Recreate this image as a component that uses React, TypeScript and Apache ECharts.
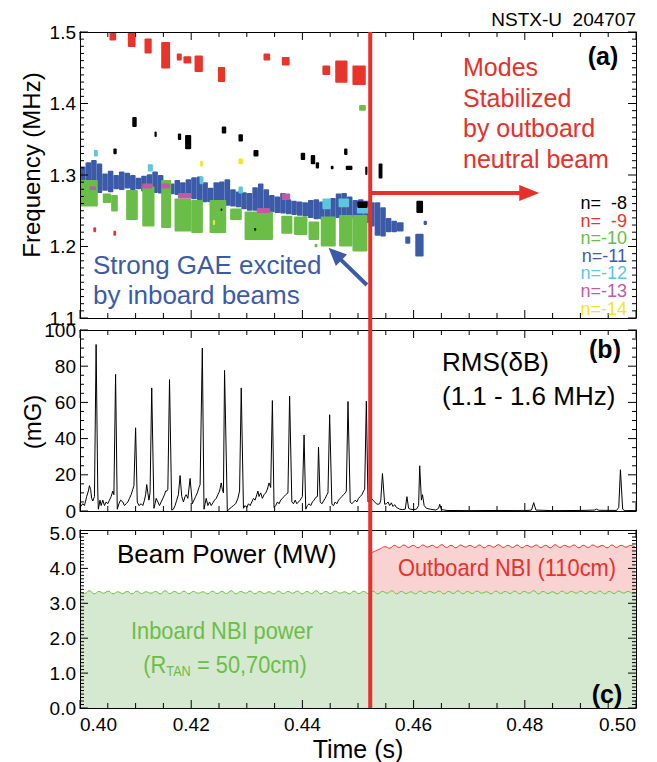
import React, { useEffect, useRef } from 'react';
import * as echarts from 'echarts';

const FONT = '"Liberation Sans", Arial, Helvetica, sans-serif';

// ---------- Panel (a): toroidal mode blobs  [tStart (s), tEnd (s), fLow (MHz), fHigh (MHz)]
const modeN8 = [
  [0.4060, 0.4066, 1.329, 1.337], [0.4094, 0.4102, 1.367, 1.381], [0.4134, 0.4138, 1.353, 1.361],
  [0.4176, 0.4182, 1.349, 1.358], [0.4189, 0.4200, 1.336, 1.356], [0.4255, 0.4263, 1.358, 1.368],
  [0.4285, 0.4293, 1.347, 1.357], [0.4312, 0.4321, 1.326, 1.335], [0.4397, 0.4405, 1.321, 1.331],
  [0.4415, 0.4423, 1.315, 1.328], [0.4424, 0.4430, 1.309, 1.318], [0.4451, 0.4456, 1.308, 1.313],
  [0.4475, 0.4481, 1.328, 1.337], [0.4478, 0.4490, 1.307, 1.313], [0.4513, 0.4517, 1.300, 1.312],
  [0.4537, 0.4544, 1.295, 1.316], [0.4499, 0.4517, 1.254, 1.263], [0.4605, 0.4617, 1.247, 1.264],
  [0.4253, 0.4256, 1.250, 1.253], [0.4313, 0.4317, 1.222, 1.226],
];
const modeN9 = [
  [0.4053, 0.4065, 1.488, 1.500], [0.4086, 0.4100, 1.479, 1.500], [0.4116, 0.4129, 1.470, 1.491],
  [0.4146, 0.4162, 1.449, 1.486], [0.4174, 0.4183, 1.460, 1.470], [0.4186, 0.4200, 1.456, 1.466],
  [0.4206, 0.4221, 1.444, 1.467], [0.4248, 0.4261, 1.430, 1.451], [0.4330, 0.4342, 1.460, 1.470],
  [0.4363, 0.4377, 1.453, 1.465], [0.4436, 0.4450, 1.440, 1.453], [0.4459, 0.4481, 1.429, 1.460],
  [0.4490, 0.4514, 1.426, 1.453], [0.4024, 0.4029, 1.220, 1.227], [0.4060, 0.4065, 1.215, 1.222],
];
const modeN10 = [
  [0.4000, 0.4032, 1.256, 1.293], [0.4041, 0.4056, 1.261, 1.274], [0.4056, 0.4068, 1.249, 1.272],
  [0.4083, 0.4104, 1.237, 1.279], [0.4112, 0.4134, 1.228, 1.284], [0.4146, 0.4164, 1.226, 1.293],
  [0.4170, 0.4200, 1.221, 1.267], [0.4200, 0.4221, 1.219, 1.265], [0.4233, 0.4263, 1.219, 1.265],
  [0.4270, 0.4291, 1.237, 1.253], [0.4296, 0.4347, 1.209, 1.249], [0.4362, 0.4382, 1.218, 1.243],
  [0.4385, 0.4409, 1.216, 1.242], [0.4411, 0.4430, 1.209, 1.235], [0.4433, 0.4460, 1.200, 1.242],
  [0.4466, 0.4490, 1.200, 1.244], [0.4490, 0.4517, 1.193, 1.244], [0.4502, 0.4514, 1.390, 1.398],
  [0.4422, 0.4427, 1.199, 1.204],
];
const modeN11 = [
  [0.400, 0.401, 1.280, 1.312], [0.401, 0.402, 1.278, 1.318], [0.402, 0.403, 1.276, 1.321],
  [0.403, 0.404, 1.275, 1.316], [0.404, 0.405, 1.278, 1.302], [0.405, 0.406, 1.276, 1.306],
  [0.406, 0.407, 1.280, 1.300], [0.407, 0.408, 1.279, 1.305], [0.408, 0.409, 1.281, 1.303],
  [0.409, 0.410, 1.279, 1.300], [0.410, 0.411, 1.280, 1.296], [0.411, 0.412, 1.277, 1.299],
  [0.412, 0.413, 1.276, 1.301], [0.413, 0.414, 1.275, 1.305], [0.414, 0.415, 1.274, 1.300],
  [0.415, 0.416, 1.275, 1.290], [0.416, 0.417, 1.273, 1.288], [0.417, 0.418, 1.272, 1.293],
  [0.418, 0.419, 1.270, 1.290], [0.419, 0.420, 1.268, 1.294], [0.420, 0.421, 1.266, 1.297],
  [0.421, 0.422, 1.265, 1.298], [0.422, 0.423, 1.262, 1.290], [0.423, 0.424, 1.262, 1.282],
  [0.424, 0.425, 1.260, 1.290], [0.425, 0.426, 1.258, 1.291], [0.426, 0.427, 1.257, 1.294],
  [0.427, 0.428, 1.256, 1.280], [0.428, 0.429, 1.255, 1.277], [0.429, 0.430, 1.252, 1.276],
  [0.430, 0.431, 1.250, 1.275], [0.431, 0.432, 1.250, 1.283], [0.432, 0.433, 1.249, 1.288],
  [0.433, 0.434, 1.249, 1.280], [0.434, 0.435, 1.248, 1.272], [0.435, 0.436, 1.247, 1.270],
  [0.436, 0.437, 1.246, 1.275], [0.437, 0.438, 1.245, 1.266], [0.438, 0.439, 1.244, 1.264],
  [0.439, 0.440, 1.243, 1.263], [0.440, 0.441, 1.242, 1.262], [0.441, 0.442, 1.240, 1.265],
  [0.442, 0.443, 1.238, 1.266], [0.443, 0.444, 1.238, 1.263], [0.444, 0.445, 1.237, 1.265],
  [0.445, 0.446, 1.238, 1.268], [0.446, 0.447, 1.240, 1.274], [0.447, 0.448, 1.241, 1.275],
  [0.448, 0.449, 1.240, 1.270], [0.449, 0.450, 1.238, 1.265], [0.450, 0.451, 1.237, 1.266],
  [0.451, 0.452, 1.233, 1.264], [0.452, 0.453, 1.228, 1.262], [0.453, 0.454, 1.215, 1.262],
  [0.454, 0.455, 1.214, 1.255], [0.455, 0.456, 1.220, 1.240], [0.456, 0.457, 1.220, 1.236],
  [0.457, 0.4582, 1.221, 1.234], [0.4585, 0.4594, 1.204, 1.214], [0.4603, 0.4618, 1.186, 1.218],
  [0.4618, 0.4624, 1.230, 1.236],
];
const modeN12 = [
  [0.4025, 0.4032, 1.326, 1.335], [0.4122, 0.4131, 1.305, 1.315], [0.4215, 0.4222, 1.287, 1.298],
  [0.4285, 0.4293, 1.274, 1.284], [0.4436, 0.4451, 1.252, 1.267], [0.4465, 0.4484, 1.255, 1.267],
  [0.4498, 0.4519, 1.246, 1.256],
];
const modeN13 = [
  [0.4017, 0.4029, 1.279, 1.284], [0.4112, 0.4130, 1.281, 1.288], [0.4146, 0.4162, 1.281, 1.288],
  [0.4176, 0.4200, 1.267, 1.275], [0.4318, 0.4342, 1.247, 1.254], [0.4363, 0.4378, 1.265, 1.274],
];
const modeN14 = [
  [0.4216, 0.4221, 1.312, 1.320], [0.4285, 0.4293, 1.315, 1.323], [0.4239, 0.4243, 1.230, 1.237],
];

const MODE_LABELS = ['n=  -8', 'n=  -9', 'n=-10', 'n=-11', 'n=-12', 'n=-13', 'n=-14'];
const MODE_COLORS = ['#000000', '#e8352b', '#6abd46', '#3b5ba9', '#5cc6dd', '#c259a4', '#f1e42a'];
const MODE_DATA = [modeN8, modeN9, modeN10, modeN11, modeN12, modeN13, modeN14];
const DRAW_ORDER = [3, 2, 1, 5, 4, 6, 0];

// ---------- Panel (b): RMS(dB) 1.1-1.6 MHz  [t (s), mG]
const rmsPoints = [
  [0.4000, 2], [0.4005, 4], [0.4008, 3], [0.4012, 8], [0.4015, 11], [0.4017, 14], [0.4019, 12], [0.4021, 7],
  [0.4023, 5.5], [0.4026, 8], [0.4029, 92], [0.4032, 10], [0.4033, 1], [0.4036, 6], [0.4038, 3], [0.4041, 6],
  [0.4044, 3], [0.4047, 5], [0.4050, 4], [0.4053, 6], [0.4056, 8], [0.4059, 11], [0.4061, 9], [0.4064, 75.5],
  [0.4067, 1], [0.4070, 4], [0.4073, 6], [0.4077, 5], [0.4080, 3], [0.4083, 4], [0.4086, 5], [0.4089, 7],
  [0.4092, 9], [0.4095, 12], [0.4097, 14], [0.4100, 46], [0.4103, 5], [0.4106, 3], [0.4110, 4], [0.4113, 3],
  [0.4116, 6], [0.4118, 9], [0.4120, 14.6], [0.4122, 10], [0.4124, 6], [0.4126, 10], [0.4129, 68], [0.4133, 1.5],
  [0.4135, 4], [0.4137, 7], [0.4140, 5], [0.4143, 3], [0.4146, 5], [0.4149, 7], [0.4152, 9], [0.4154, 11],
  [0.4156, 11], [0.4158, 12], [0.4161, 72.6], [0.4165, 0.5], [0.4168, 1], [0.4171, 3], [0.4174, 6], [0.4177, 9],
  [0.4180, 19.6], [0.4183, 8], [0.4186, 5], [0.4189, 8], [0.4191, 9], [0.4194, 7], [0.4198, 18], [0.4202, 4],
  [0.4205, 6], [0.4208, 8], [0.4211, 10], [0.4214, 13], [0.4216, 14.6], [0.4220, 90], [0.4223, 1], [0.4225, 4],
  [0.4227, 7], [0.4230, 3], [0.4233, 5], [0.4236, 3], [0.4239, 4.5], [0.4242, 6], [0.4245, 7], [0.4248, 9],
  [0.4251, 11], [0.4254, 15.5], [0.4256, 12], [0.4258, 10], [0.4260, 77.7], [0.4265, 0], [0.4268, 1], [0.4272, 2],
  [0.4276, 3], [0.4280, 4], [0.4284, 7], [0.4287, 11], [0.4290, 68], [0.4294, 1.5], [0.4297, 3], [0.4300, 2],
  [0.4303, 4], [0.4306, 3], [0.4309, 5], [0.4312, 7], [0.4315, 6], [0.4318, 9], [0.4320, 11], [0.4322, 8],
  [0.4325, 10], [0.4328, 7], [0.4331, 9], [0.4334, 10], [0.4337, 12], [0.4340, 15.5], [0.4343, 13], [0.4346, 61],
  [0.4349, 2], [0.4352, 3], [0.4355, 5], [0.4358, 4], [0.4361, 6], [0.4364, 7], [0.4367, 8], [0.4370, 9],
  [0.4374, 10], [0.4377, 63.4], [0.4381, 5], [0.4384, 4], [0.4387, 6], [0.4390, 4], [0.4393, 5], [0.4396, 6],
  [0.4398, 7], [0.4400, 8], [0.4403, 42], [0.4406, 1], [0.4409, 3], [0.4412, 4], [0.4415, 3], [0.4418, 5],
  [0.4421, 6], [0.4424, 7.5], [0.4427, 8], [0.4429, 35.3], [0.4432, 5], [0.4435, 4], [0.4438, 5.5], [0.4441, 7],
  [0.4444, 9], [0.4446, 10], [0.4449, 53.2], [0.4453, 3.7], [0.4456, 3], [0.4459, 5], [0.4462, 4], [0.4465, 6],
  [0.4468, 7], [0.4471, 8], [0.4474, 9], [0.4477, 10], [0.4479, 11], [0.4482, 60.5], [0.4486, 5], [0.4489, 4],
  [0.4492, 5], [0.4495, 6], [0.4498, 5], [0.4501, 7], [0.4504, 8], [0.4507, 9], [0.4510, 11], [0.4512, 12],
  [0.4515, 60.7], [0.4518, 5], [0.4521, 6], [0.4524, 7], [0.4527, 6], [0.4530, 5], [0.4533, 4], [0.4536, 3.7],
  [0.4539, 4], [0.4541, 6], [0.4544, 20.7], [0.4548, 3.7], [0.4551, 4], [0.4554, 5], [0.4557, 3], [0.4560, 4.5],
  [0.4563, 2.5], [0.4566, 3.5], [0.4569, 2], [0.4572, 1.5], [0.4575, 1], [0.4580, 0.8], [0.4585, 1], [0.4588, 7.9],
  [0.4591, 1.5], [0.4594, 1], [0.4600, 0.8], [0.4605, 1], [0.4609, 3], [0.4611, 25], [0.4614, 6], [0.4616, 9],
  [0.4619, 3], [0.4623, 1.5], [0.4630, 1], [0.4640, 0.5], [0.4645, 1.5], [0.4647, 3.7], [0.4650, 0.8], [0.4660, 0.3],
  [0.4700, 0.2], [0.4750, 0.3], [0.4800, 0.2], [0.4812, 0.5], [0.4816, 4.6], [0.4820, 0.5], [0.4850, 0.2],
  [0.4900, 0.3], [0.4925, 0.5], [0.4929, 1], [0.4933, 0.4], [0.4965, 0.3], [0.4969, 2], [0.4972, 22.8],
  [0.4976, 1], [0.4980, 0.2], [0.5000, 0.2],
];

// ---------- Panel (c): beam power (MW), sampled every POWER_DT s
const POWER_DT = 0.00085;
const INBOARD_T0 = 0.4;
const inboardPower = [
  3.35, 3.28, 3.36, 3.27, 3.34, 3.29, 3.35, 3.27, 3.33, 3.28, 3.34, 3.27, 3.35, 3.28, 3.33, 3.29, 3.34, 3.27, 3.36, 3.28,
  3.34, 3.28, 3.35, 3.27, 3.34, 3.29, 3.33, 3.27, 3.35, 3.28, 3.34, 3.28, 3.36, 3.27, 3.34, 3.29, 3.35, 3.27, 3.34, 3.28,
  3.33, 3.27, 3.35, 3.28, 3.34, 3.29, 3.35, 3.27, 3.34, 3.28, 3.36, 3.27, 3.34, 3.28, 3.35, 3.29, 3.33, 3.27, 3.35, 3.28,
  3.34, 3.28, 3.35, 3.27, 3.34, 3.29, 3.36, 3.27, 3.34, 3.28, 3.33, 3.27, 3.35, 3.28, 3.34, 3.29, 3.35, 3.27, 3.34, 3.28,
  3.36, 3.27, 3.34, 3.28, 3.35, 3.29, 3.33, 3.27, 3.35, 3.28, 3.34, 3.28, 3.35, 3.27, 3.34, 3.29, 3.36, 3.27, 3.34, 3.28,
  3.33, 3.27, 3.35, 3.28, 3.34, 3.29, 3.35, 3.27, 3.34, 3.28, 3.35, 3.27, 3.34, 3.28, 3.35, 3.29, 3.34, 3.28, 3.34,
];
const OUTBOARD_T0 = 0.4523;
const outboardPower = [
  4.44, 4.50, 4.56, 4.62, 4.58, 4.66, 4.60, 4.67, 4.60, 4.66, 4.59, 4.67, 4.61, 4.66, 4.60, 4.68, 4.60, 4.66, 4.59, 4.67,
  4.61, 4.66, 4.60, 4.67, 4.59, 4.66, 4.61, 4.68, 4.60, 4.66, 4.60, 4.67, 4.59, 4.66, 4.61, 4.67, 4.60, 4.66, 4.59, 4.68,
  4.60, 4.66, 4.61, 4.67, 4.59, 4.66, 4.60, 4.67, 4.61, 4.66, 4.59, 4.67, 4.60, 4.66, 4.61, 4.66, 4.60,
];

// ---------- Tick positions (axis values)
const TIME_MAJOR = [0.40, 0.42, 0.44, 0.46, 0.48, 0.50];
const TIME_MINOR = [0.405, 0.41, 0.415, 0.425, 0.43, 0.435, 0.445, 0.45, 0.455, 0.465, 0.47, 0.475, 0.485, 0.49, 0.495];
const FREQ_MAJOR = [1.1, 1.2, 1.3, 1.4, 1.5];
const FREQ_MINOR = [
  1.11, 1.12, 1.13, 1.14, 1.15, 1.16, 1.17, 1.18, 1.19,
  1.21, 1.22, 1.23, 1.24, 1.25, 1.26, 1.27, 1.28, 1.29,
  1.31, 1.32, 1.33, 1.34, 1.35, 1.36, 1.37, 1.38, 1.39,
  1.41, 1.42, 1.43, 1.44, 1.45, 1.46, 1.47, 1.48, 1.49,
];
const RMS_MAJOR = [0, 20, 40, 60, 80, 100];
const RMS_MINOR = [5, 10, 15, 25, 30, 35, 45, 50, 55, 65, 70, 75, 85, 90, 95];
const POWER_MAJOR = [0, 1, 2, 3, 4, 5];
const POWER_MINOR = [
  0.1, 0.2, 0.3, 0.4, 0.5, 0.6, 0.7, 0.8, 0.9,
  1.1, 1.2, 1.3, 1.4, 1.5, 1.6, 1.7, 1.8, 1.9,
  2.1, 2.2, 2.3, 2.4, 2.5, 2.6, 2.7, 2.8, 2.9,
  3.1, 3.2, 3.3, 3.4, 3.5, 3.6, 3.7, 3.8, 3.9,
  4.1, 4.2, 4.3, 4.4, 4.5, 4.6, 4.7, 4.8, 4.9, 5.0,
];

// ---------- Annotation anchors (data coordinates)
const STAB_T = 0.4522;          // outboard beam turn-on time
const RED_ARROW = { f: 1.275, tEnd: 0.4826 };
const BLUE_ARROW = { tailT: 0.4516, tailF: 1.1462, tipT: 0.4447, tipF: 1.1983 };

const RED = '#e8302a';
const GREEN_TXT = '#6cbd47';
const BLUE_TXT = '#3b5ba9';

function xAxisPair(gi: number, withLabels: boolean) {
  const base = {
    type: 'value', gridIndex: gi, min: 0.4, max: 0.5, interval: 0.02, z: 10,
    axisLine: { show: true, onZero: false, lineStyle: { color: '#000', width: 1 } },
    axisTick: { show: false },
    splitLine: { show: false },
  };
  return [
    {
      ...base, position: 'bottom',
      axisLabel: withLabels
        ? { show: true, formatter: (v: number) => v.toFixed(2), fontSize: 19, color: '#000', fontFamily: FONT, margin: 7, alignMinLabel: 'left', alignMaxLabel: 'right' }
        : { show: false },
      ...(withLabels ? { name: 'Time (s)', nameLocation: 'middle', nameGap: 28, nameTextStyle: { fontSize: 25, color: '#000', fontFamily: FONT } } : {}),
    },
    { ...base, position: 'top', axisLabel: { show: false } },
  ];
}

function yAxisPair(gi: number, min: number, max: number, interval: number, fmt: (v: number) => string) {
  const base = {
    type: 'value', gridIndex: gi, min, max, interval, z: 10,
    axisLine: { show: true, onZero: false, lineStyle: { color: '#000', width: 1 } },
    axisTick: { show: false },
    splitLine: { show: false },
  };
  return [
    { ...base, position: 'left', axisLabel: { show: true, formatter: fmt, fontSize: 19, color: '#000', fontFamily: FONT, margin: 4 } },
    { ...base, position: 'right', axisLabel: { show: false } },
  ];
}

function rectSeries(name: string, data: number[][], color: string) {
  return {
    type: 'custom', name, xAxisIndex: 0, yAxisIndex: 0, data, clip: true, z: 2,
    encode: { x: [0, 1], y: [2, 3] },
    renderItem: (_p: any, api: any) => {
      const a = api.coord([api.value(0), api.value(3)]);
      const b = api.coord([api.value(1), api.value(2)]);
      return {
        type: 'rect',
        shape: { x: a[0], y: a[1], width: Math.max(1.2, b[0] - a[0]), height: Math.max(1.2, b[1] - a[1]), r: 1 },
        style: { fill: color },
      };
    },
  };
}

export default function App() {
  const ref = useRef<HTMLDivElement>(null);
  useEffect(() => {
    const chart = echarts.init(ref.current!, null, { renderer: 'svg' });
    const intFmt1 = (v: number) => {
      const r = Math.round(v * 10) / 10;
      return Math.abs(r - Math.round(r)) < 1e-9 ? r.toFixed(1) : '';
    };

    const option: any = {
      animation: false,
      backgroundColor: '#ffffff',
      textStyle: { fontFamily: FONT },
      grid: [
        { left: 80, right: 21, top: 32, height: 286 },
        { left: 80, right: 21, top: 330, height: 181 },
        { left: 80, right: 21, top: 530, height: 185 },
      ],
      xAxis: [...xAxisPair(0, false), ...xAxisPair(1, false), ...xAxisPair(2, true)],
      yAxis: [
        ...yAxisPair(0, 1.1, 1.5, 0.1, (v: number) => v.toFixed(1)),
        ...yAxisPair(1, 0, 100, 20, (v: number) => String(Math.round(v))),
        ...yAxisPair(2, 0, 5.1, 1, intFmt1),
      ],
      series: [
        ...DRAW_ORDER.map((k) => rectSeries(MODE_LABELS[k], MODE_DATA[k], MODE_COLORS[k])),
        {
          type: 'line', name: 'RMS(δB)', xAxisIndex: 2, yAxisIndex: 2, data: rmsPoints, z: 2,
          symbol: 'none', lineStyle: { color: '#000', width: 1 }, clip: true,
        },
        {
          type: 'line', name: 'Outboard NBI (110cm)', xAxisIndex: 4, yAxisIndex: 4, z: 2,
          data: outboardPower.map((v, i) => [OUTBOARD_T0 + i * POWER_DT, v]),
          symbol: 'none', smooth: 0.5, lineStyle: { color: RED, width: 1 },
          areaStyle: { color: '#f9d3d2', opacity: 1 }, clip: true,
        },
        {
          type: 'line', name: 'Inboard NBI power', xAxisIndex: 4, yAxisIndex: 4, z: 2,
          data: inboardPower.map((v, i) => [INBOARD_T0 + i * POWER_DT, v]),
          symbol: 'none', smooth: 0.5, lineStyle: { color: '#6cbf45', width: 1 },
          areaStyle: { color: '#d5e9d0', opacity: 1 }, clip: true,
        },
      ],
    };
    chart.setOption(option);

    const px = (xi: number, yi: number, t: number, v: number) =>
      chart.convertToPixel({ xAxisIndex: xi, yAxisIndex: yi } as any, [t, v]) as number[];

    // ---- tick marks on all four sides of each panel (drawn through the axes' scales)
    const ticks: any[] = [];
    const tickLine = (x1: number, y1: number, x2: number, y2: number) => ({
      type: 'line', z: 105, silent: true,
      shape: { x1, y1, x2, y2 }, style: { stroke: '#000', lineWidth: 1 },
    });
    const panels = [
      { xi: 0, yi: 0, yMin: 1.1, yMax: 1.5, major: FREQ_MAJOR, minor: FREQ_MINOR },
      { xi: 2, yi: 2, yMin: 0, yMax: 100, major: RMS_MAJOR, minor: RMS_MINOR },
      { xi: 4, yi: 4, yMin: 0, yMax: 5.1, major: POWER_MAJOR, minor: POWER_MINOR },
    ];
    panels.forEach((p) => {
      const addX = (vals: number[], len: number) => vals.forEach((t) => {
        const b = px(p.xi, p.yi, t, p.yMin);
        const tp = px(p.xi, p.yi, t, p.yMax);
        ticks.push(tickLine(b[0], b[1], b[0], b[1] - len));
        ticks.push(tickLine(tp[0], tp[1], tp[0], tp[1] + len));
      });
      const addY = (vals: number[], len: number) => vals.forEach((v) => {
        const l = px(p.xi, p.yi, 0.4, v);
        const r = px(p.xi, p.yi, 0.5, v);
        ticks.push(tickLine(l[0], l[1], l[0] + len, l[1]));
        ticks.push(tickLine(r[0], r[1], r[0] - len, r[1]));
      });
      addX(TIME_MAJOR, 8);
      addX(TIME_MINOR, 5);
      addY(p.major, 8);
      addY(p.minor, 4);
    });

    const lineTop = px(0, 0, STAB_T, 1.5);
    const lineBot = px(4, 4, STAB_T, 0);

    const ra = px(0, 0, STAB_T, RED_ARROW.f);
    const rb = px(0, 0, RED_ARROW.tEnd, RED_ARROW.f);
    const headL = 20, headW = 8;

    const bt = px(0, 0, BLUE_ARROW.tailT, BLUE_ARROW.tailF);
    const bp = px(0, 0, BLUE_ARROW.tipT, BLUE_ARROW.tipF);
    const dx = bp[0] - bt[0], dy = bp[1] - bt[1];
    const len = Math.hypot(dx, dy);
    const ux = dx / len, uy = dy / len;
    const bLen = 18, bW = 8;
    const bBase = [bp[0] - ux * bLen, bp[1] - uy * bLen];

    const txt = (text: string, x: number, y: number, size: number, fill: string, align = 'left', extra: any = {}, weight = 'normal') => ({
      type: 'text', x, y, z: 120, ...extra,
      style: {
        text, fill, fontSize: size, fontFamily: FONT, fontWeight: weight,
        align, verticalAlign: 'middle', textAlign: align, textVerticalAlign: 'middle',
      },
    });

    const legendTexts = MODE_LABELS.map((lab, i) => txt(lab, 627, 203 + i * 17.6, 18, MODE_COLORS[i], 'right'));

    chart.setOption({
      graphic: {
        elements: [
          ...ticks,
          { type: 'line', z: 110, shape: { x1: lineTop[0], y1: lineTop[1], x2: lineBot[0], y2: lineBot[1] }, style: { stroke: RED, lineWidth: 4 } },
          { type: 'line', z: 110, shape: { x1: ra[0], y1: ra[1], x2: rb[0] - headL + 2, y2: rb[1] }, style: { stroke: RED, lineWidth: 4 } },
          { type: 'polygon', z: 110, shape: { points: [[rb[0], rb[1]], [rb[0] - headL, rb[1] - headW], [rb[0] - headL, rb[1] + headW]] }, style: { fill: RED } },
          { type: 'line', z: 110, shape: { x1: bt[0], y1: bt[1], x2: bBase[0] + ux * 2, y2: bBase[1] + uy * 2 }, style: { stroke: BLUE_TXT, lineWidth: 4 } },
          { type: 'polygon', z: 110, shape: { points: [[bp[0], bp[1]], [bBase[0] - uy * bW, bBase[1] + ux * bW], [bBase[0] + uy * bW, bBase[1] - ux * bW]] }, style: { fill: BLUE_TXT } },

          txt('NSTX-U  204707', 636, 19, 19, '#000', 'right'),
          txt('(a)', 603, 56, 25, '#000', 'center', {}, 'bold'),
          txt('(b)', 605, 349, 25, '#000', 'center', {}, 'bold'),
          txt('(c)', 607, 694, 25, '#000', 'center', {}, 'bold'),

          txt('Modes', 463, 67, 25, RED),
          txt('Stabilized', 463, 97.5, 25, RED),
          txt('by outboard', 463, 128, 25, RED),
          txt('neutral beam', 463, 158.5, 25, RED),

          ...legendTexts,

          txt('Strong GAE excited', 93, 265, 26, BLUE_TXT),
          txt('by inboard beams', 93, 295, 26, BLUE_TXT),

          txt('RMS(δB)', 442, 362, 26, '#000'),
          txt('(1.1 - 1.6 MHz)', 442, 396, 26, '#000'),

          txt('Beam Power (MW)', 117, 554, 26, '#000'),
          txt('Outboard NBI (110cm)', 398, 568, 24, RED, 'left', { scaleX: 0.91 }),
          txt('Inboard NBI power', 131, 631, 24, GREEN_TXT, 'left', { scaleX: 0.91 }),
          {
            type: 'text', x: 225, y: 665, z: 120, scaleX: 0.91,
            style: {
              text: '{a|(R}{s|TAN}{a| = 50,70cm)}',
              align: 'center', verticalAlign: 'middle', textAlign: 'center', textVerticalAlign: 'middle',
              rich: {
                a: { fontSize: 24, fontFamily: FONT, fill: GREEN_TXT },
                s: { fontSize: 14, fontFamily: FONT, fill: GREEN_TXT, padding: [12, 0, 0, 0] },
              },
            },
          },

          txt('Frequency (MHz)', 31, 165, 24, '#000', 'center', { rotation: Math.PI / 2 }),
          txt('(mG)', 32, 422, 24, '#000', 'center', { rotation: Math.PI / 2 }),
        ],
      },
    });

    return () => chart.dispose();
  }, []);
  return <div ref={ref} style={{ position: 'fixed', left: 0, top: 0, width: 657, height: 762, background: '#fff' }} />;
}
